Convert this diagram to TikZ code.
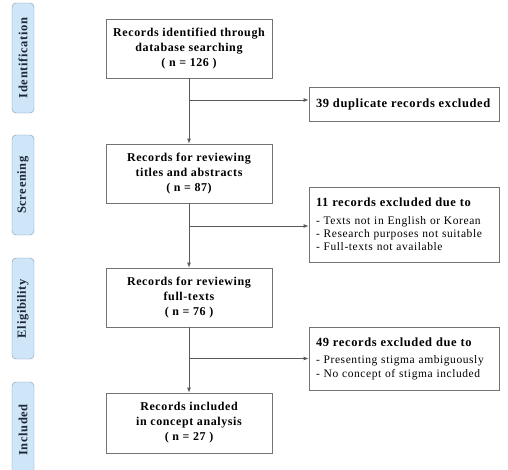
\documentclass[tikz,border=0pt]{standalone}
\usepackage{fontspec}
\setmainfont{Liberation Serif}[LetterSpace=5]
\usetikzlibrary{arrows.meta}
\definecolor{stagefill}{HTML}{CFE5F8}
\definecolor{stageline}{HTML}{7B98B0}
\definecolor{stagetext}{HTML}{1C2838}
\tikzset{
  recbox/.style = {draw=black!55, line width=0.8pt, minimum width=166pt,
    minimum height=59pt, align=center, inner sep=2pt,
    font=\bfseries\fontsize{12}{15}\selectfont},
  exbox/.style = {draw=black!55, line width=0.8pt, text width=176pt,
    inner xsep=7pt, inner ysep=3pt, align=left,
    font=\fontsize{11.5}{13.4}\selectfont},
  stage/.style = {draw=stageline, fill=stagefill, rounded corners=4pt,
    rotate=90, minimum height=22pt, inner sep=1pt, text=stagetext,
    font=\bfseries\fontsize{12.5}{13}\selectfont},
  flow/.style = {draw=black!65, line width=0.8pt},
  >={Latex[length=5pt,width=4pt]}
}
\newcommand{\exhead}[1]{{\bfseries\fontsize{12.5}{14}\selectfont #1}}
\begin{document}
\begin{tikzpicture}[x=1pt, y=-1pt]
  \useasboundingbox (0,0) rectangle (508,469);
  % stages on the left
  \node[stage, minimum width=110pt] (sId) at (23,58) {Identification};
  \node[stage, minimum width=100pt] (sSc) at (23,185) {Screening};
  \node[stage, minimum width=101pt] (sEl) at (23,308.5) {Eligibility};
  \node[stage, minimum width=96pt] (sIn) at (23,430) {Included};
  % main records column
  \node[recbox] (rec1) at (189,48.5) {Records identified through\\database searching\\( n = 126 )};
  \node[recbox] (rec2) at (189,173.5) {Records for reviewing\\titles and abstracts\\( n = 87)};
  \node[recbox] (rec3) at (189,297.5) {Records for reviewing\\full-texts\\( n = 76 )};
  \node[recbox, minimum height=60pt] (rec4) at (189,423) {Records included\\in concept analysis\\( n = 27 )};
  % excluded records
  \node[exbox, minimum height=34pt] (ex1) at (404,104) {\exhead{39 duplicate records excluded}};
  \node[exbox, minimum height=75pt] (ex2) at (404,224.5) {\exhead{11 records excluded due to}\\[4pt]
    - Texts not in English or Korean\\- Research purposes not suitable\\- Full-texts not available};
  \node[exbox, minimum height=63pt] (ex3) at (404,358.5) {\exhead{49 records excluded due to}\\[4pt]
    - Presenting stigma ambiguously\\- No concept of stigma included};
  % connectors
  \coordinate (br1) at (189,100);
  \coordinate (br2) at (189,226);
  \coordinate (br3) at (189,358.5);
  \draw[flow,->] (rec1) -- (rec2);
  \draw[flow,->] (rec2) -- (rec3);
  \draw[flow,->] (rec3) -- (rec4);
  \draw[flow,->] (br1) -- (br1 -| ex1.west);
  \draw[flow,->] (br2) -- (br2 -| ex2.west);
  \draw[flow,->] (br3) -- (br3 -| ex3.west);
\end{tikzpicture}
\end{document}
